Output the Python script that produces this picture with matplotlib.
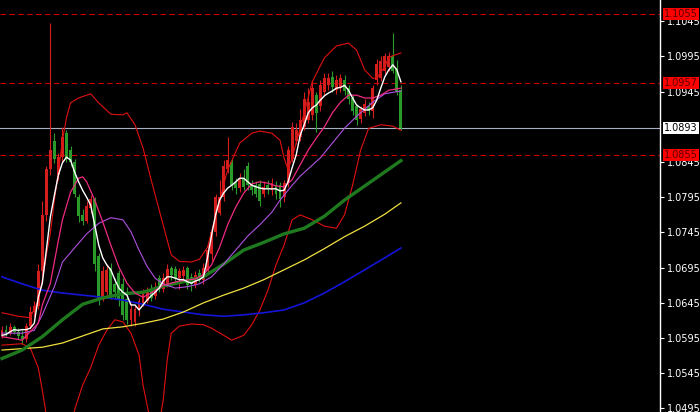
import matplotlib
matplotlib.use("Agg")
import matplotlib.pyplot as plt
import matplotlib.transforms as mtransforms

# OHLC bars, oldest first
opens = [1.0600, 1.0606, 1.0602, 1.0611, 1.0604, 1.0598, 1.0594, 1.0612, 1.0632, 1.0640,
         1.0690, 1.0770, 1.0835, 1.0875, 1.0826, 1.0852, 1.0886, 1.0862, 1.0845, 1.0796,
         1.0770, 1.0762, 1.0780, 1.0792, 1.0712, 1.0652, 1.0660, 1.0695, 1.0672, 1.0688,
         1.0672, 1.0650, 1.0620, 1.0618, 1.0636, 1.0645, 1.0648, 1.0662, 1.0655, 1.0680,
         1.0665, 1.0672, 1.0694, 1.0693, 1.0680, 1.0683, 1.0694, 1.0682, 1.0670, 1.0688,
         1.0677, 1.0690, 1.0715, 1.0745, 1.0773, 1.0795, 1.0835, 1.0845, 1.0815, 1.0808,
         1.0822, 1.0840, 1.0814, 1.0812, 1.0814, 1.0800, 1.0812, 1.0805, 1.0812, 1.0812,
         1.0795, 1.0815, 1.0850, 1.0875, 1.0880, 1.0895, 1.0905, 1.0912, 1.0940, 1.0925,
         1.0945, 1.0955, 1.0966, 1.0948, 1.0952, 1.0962, 1.0950, 1.0936, 1.0925, 1.0906,
         1.0915, 1.0925, 1.0918, 1.0962, 1.0965, 1.0975, 1.0980, 1.0995, 1.0978, 1.0948]
highs = [1.0612, 1.0614, 1.0616, 1.0614, 1.0610, 1.0606, 1.0616, 1.0640, 1.0648, 1.0700,
         1.0790, 1.0840, 1.1043, 1.0886, 1.0858, 1.0895, 1.0890, 1.0868, 1.0850, 1.0800,
         1.0778, 1.0790, 1.0798, 1.0796, 1.0716, 1.0698, 1.0700, 1.0702, 1.0680, 1.0692,
         1.0680, 1.0668, 1.0645, 1.0642, 1.0652, 1.0665, 1.0668, 1.0672, 1.0675, 1.0685,
         1.0688, 1.0700, 1.0698, 1.0698, 1.0695, 1.0697, 1.0698, 1.0688, 1.0690, 1.0693,
         1.0702, 1.0728, 1.0752, 1.0800, 1.0820, 1.0848, 1.0880, 1.0850, 1.0822, 1.0830,
         1.0835, 1.0845, 1.0820, 1.0818, 1.0820, 1.0818, 1.0820, 1.0822, 1.0818, 1.0816,
         1.0820, 1.0868, 1.0902, 1.0900, 1.0920, 1.0945, 1.0950, 1.0962, 1.0945, 1.0962,
         1.0972, 1.0972, 1.0975, 1.0968, 1.0970, 1.0968, 1.0955, 1.0940, 1.0928, 1.0925,
         1.0935, 1.0930, 1.0955, 1.0992, 1.0995, 1.1000, 1.1002, 1.1029, 1.0990, 1.0955]
lows = [1.0595, 1.0598, 1.0600, 1.0601, 1.0594, 1.0586, 1.0590, 1.0608, 1.0625, 1.0636,
        1.0685, 1.0762, 1.0826, 1.0843, 1.0820, 1.0845, 1.0845, 1.0840, 1.0795, 1.0760,
        1.0755, 1.0758, 1.0772, 1.0690, 1.0642, 1.0648, 1.0655, 1.0650, 1.0650, 1.0640,
        1.0620, 1.0615, 1.0612, 1.0612, 1.0627, 1.0640, 1.0645, 1.0648, 1.0650, 1.0660,
        1.0660, 1.0668, 1.0678, 1.0672, 1.0665, 1.0676, 1.0665, 1.0662, 1.0666, 1.0674,
        1.0672, 1.0688, 1.0705, 1.0740, 1.0770, 1.0790, 1.0830, 1.0805, 1.0800, 1.0802,
        1.0805, 1.0806, 1.0798, 1.0795, 1.0783, 1.0795, 1.0800, 1.0798, 1.0792, 1.0781,
        1.0788, 1.0810, 1.0845, 1.0870, 1.0875, 1.0890, 1.0900, 1.0905, 1.0888, 1.0918,
        1.0940, 1.0948, 1.0945, 1.0942, 1.0945, 1.0940, 1.0928, 1.0912, 1.0898, 1.0900,
        1.0910, 1.0912, 1.0908, 1.0955, 1.0960, 1.0970, 1.0975, 1.0972, 1.0940, 1.0890]
closes = [1.0606, 1.0602, 1.0611, 1.0604, 1.0598, 1.0594, 1.0612, 1.0632, 1.0640, 1.0690,
          1.0770, 1.0835, 1.0862, 1.0850, 1.0852, 1.0880, 1.0850, 1.0845, 1.0800, 1.0768,
          1.0762, 1.0782, 1.0792, 1.0700, 1.0650, 1.0690, 1.0692, 1.0655, 1.0660, 1.0650,
          1.0628, 1.0620, 1.0637, 1.0636, 1.0648, 1.0660, 1.0662, 1.0652, 1.0668, 1.0664,
          1.0680, 1.0693, 1.0684, 1.0680, 1.0690, 1.0692, 1.0670, 1.0672, 1.0685, 1.0680,
          1.0695, 1.0720, 1.0745, 1.0795, 1.0795, 1.0840, 1.0848, 1.0812, 1.0808, 1.0822,
          1.0810, 1.0812, 1.0805, 1.0800, 1.0790, 1.0810, 1.0808, 1.0815, 1.0800, 1.0792,
          1.0815, 1.0862, 1.0895, 1.0890, 1.0905, 1.0935, 1.0930, 1.0950, 1.0915, 1.0955,
          1.0965, 1.0965, 1.0951, 1.0962, 1.0965, 1.0946, 1.0934, 1.0918, 1.0905, 1.0920,
          1.0928, 1.0918, 1.0950, 1.0985, 1.0988, 1.0995, 1.0996, 1.0975, 1.0945, 1.0893]

# moving averages (bar index, price)
ma_white = [1.0599, 1.0600, 1.0604, 1.0607, 1.0606, 1.0607, 1.0607, 1.0609, 1.0616, 1.0653,
            1.0673, 1.0720, 1.0767, 1.0798, 1.0827, 1.0844, 1.0852, 1.0848, 1.0831, 1.0817,
            1.0805, 1.0795, 1.0784, 1.0756, 1.0727, 1.0709, 1.0699, 1.0692, 1.0678, 1.0666,
            1.0660, 1.0656, 1.0642, 1.0642, 1.0635, 1.0642, 1.0649, 1.0655, 1.0660, 1.0666,
            1.0676, 1.0682, 1.0682, 1.0680, 1.0678, 1.0678, 1.0675, 1.0673, 1.0676, 1.0678,
            1.0682, 1.0709, 1.0741, 1.0770, 1.0791, 1.0801, 1.0808, 1.0812, 1.0817, 1.0822,
            1.0822, 1.0817, 1.0812, 1.0810, 1.0808, 1.0807, 1.0807, 1.0807, 1.0807, 1.0804,
            1.0805, 1.0817, 1.0837, 1.0855, 1.0883, 1.0898, 1.0915, 1.0922, 1.0926, 1.0933,
            1.0939, 1.0943, 1.0946, 1.0950, 1.0951, 1.0954, 1.0947, 1.0936, 1.0926, 1.0922,
            1.0919, 1.0919, 1.0922, 1.0933, 1.0950, 1.0966, 1.0976, 1.0983, 1.0976, 1.0959]
ma_pink_x = [0, 5, 9, 10, 12, 14, 15, 17, 18, 19, 20, 21, 23, 25, 27, 29, 31, 33, 35, 37,
             40, 44, 48, 50, 52, 54, 56, 58, 60, 62, 64, 66, 68, 70, 72, 74, 76, 78, 80, 82,
             84, 86, 88, 90, 92, 94, 96, 99]
ma_pink = [1.0597, 1.0592, 1.0616, 1.0642, 1.0673, 1.0734, 1.0763, 1.0802, 1.0812, 1.0822,
           1.0824, 1.0817, 1.0791, 1.0760, 1.0727, 1.0696, 1.0673, 1.0659, 1.0653, 1.0659,
           1.0670, 1.0676, 1.0679, 1.0685, 1.0699, 1.0724, 1.0756, 1.0781, 1.0801, 1.0814,
           1.0817, 1.0815, 1.0811, 1.0810, 1.0820, 1.0841, 1.0862, 1.0879, 1.0895, 1.0915,
           1.0930, 1.0940, 1.0940, 1.0936, 1.0936, 1.0940, 1.0947, 1.0950]
ma_purple_x = [0, 5, 8, 10, 13, 15, 18, 21, 24, 27, 30, 32, 34, 36, 38, 40, 43, 46, 49, 52,
               55, 58, 61, 64, 67, 69, 72, 74, 79, 85, 88, 92, 95, 99]
ma_purple = [1.0602, 1.0602, 1.0606, 1.0628, 1.0668, 1.0703, 1.0723, 1.0743, 1.0758, 1.0766,
             1.0763, 1.0746, 1.0720, 1.0697, 1.0680, 1.0672, 1.0666, 1.0668, 1.0672, 1.0682,
             1.0700, 1.0720, 1.0740, 1.0756, 1.0774, 1.0791, 1.0812, 1.0825, 1.0851, 1.0893,
             1.0910, 1.0930, 1.0942, 1.0946]
slow_x = [0, 5, 10, 15, 20, 25, 30, 35, 40, 45, 50, 55, 60, 65, 70, 75, 80, 85, 90, 95, 99]
ma_green = [1.0566, 1.0578, 1.0597, 1.0621, 1.0643, 1.0652, 1.0658, 1.0660, 1.0669, 1.0675,
            1.0682, 1.0700, 1.0720, 1.0731, 1.0743, 1.0751, 1.0768, 1.0791, 1.0811, 1.0831,
            1.0847]
ma_yellow = [1.0578, 1.0580, 1.0582, 1.0588, 1.0598, 1.0608, 1.0611, 1.0616, 1.0622, 1.0632,
             1.0645, 1.0656, 1.0666, 1.0678, 1.0692, 1.0706, 1.0722, 1.0739, 1.0754, 1.0771,
             1.0787]
ma_blue = [1.0682, 1.0672, 1.0663, 1.0659, 1.0656, 1.0653, 1.0649, 1.0643, 1.0636, 1.0632,
           1.0628, 1.0626, 1.0628, 1.0631, 1.0635, 1.0645, 1.0659, 1.0675, 1.0692, 1.0709,
           1.0723]

# Bollinger bands
bb_up_x = [0, 4, 7, 9, 10, 11, 12, 13, 14, 15, 16, 17, 19, 22, 24, 27, 30, 31, 33, 35,
           37, 39, 41, 42, 44, 47, 49, 51, 52, 54, 56, 59, 62, 64, 67, 69, 70, 71, 72, 74,
           77, 80, 83, 86, 88, 90, 92, 93, 95, 96, 99]
bb_up = [1.0631, 1.0626, 1.0624, 1.0649, 1.0677, 1.0713, 1.0744, 1.0791, 1.0831, 1.0876,
         1.0908, 1.0929, 1.0936, 1.0942, 1.0929, 1.0913, 1.0912, 1.0915, 1.0898, 1.0865,
         1.0820, 1.0777, 1.0734, 1.0713, 1.0704, 1.0703, 1.0707, 1.0724, 1.0746, 1.0791,
         1.0834, 1.0872, 1.0886, 1.0889, 1.0886, 1.0876, 1.0851, 1.0834, 1.0851, 1.0893,
         1.0959, 1.0993, 1.1010, 1.1014, 1.1004, 1.0976, 1.0964, 1.0964, 1.0981, 1.0994,
         1.1000]
bb_lo_x = [0, 5, 7, 9, 10, 11, 12, 15, 17, 18, 20, 22, 24, 26, 28, 30, 32, 34, 35, 36,
           37, 39, 40, 41, 42, 44, 47, 50, 52, 55, 57, 60, 62, 64, 66, 68, 70, 72, 74, 77,
           80, 83, 85, 87, 89, 91, 94, 97, 99]
bb_lo = [1.0585, 1.0587, 1.0581, 1.0553, 1.0521, 1.0486, 1.0470, 1.0440, 1.0450, 1.0493,
         1.0528, 1.0553, 1.0585, 1.0606, 1.0621, 1.0618, 1.0602, 1.0571, 1.0528, 1.0500,
         1.0472, 1.0472, 1.0507, 1.0564, 1.0602, 1.0612, 1.0615, 1.0614, 1.0609, 1.0599,
         1.0592, 1.0599, 1.0614, 1.0635, 1.0663, 1.0699, 1.0727, 1.0763, 1.0770, 1.0763,
         1.0754, 1.0751, 1.0770, 1.0812, 1.0862, 1.0893, 1.0898, 1.0896, 1.0890]

levels = [1.1055, 1.0957, 1.0855]
last_price = 1.0893
yticks = [1.0495, 1.0545, 1.0595, 1.0645, 1.0695, 1.0745, 1.0795, 1.0845, 1.0945, 1.0995, 1.1045]

RED = '#d41e1e'
GREEN = '#2a9a2a'

fig = plt.figure(figsize=(7, 4.12), dpi=100, facecolor='black')
ax = fig.add_axes([0, 0, 660 / 700, 1])
ax.set_facecolor('black')

n = len(closes)
idx = list(range(n))

# horizontal levels
for lv in levels:
    ax.axhline(lv, color='#c80000', lw=0.8, ls=(0, (5, 3)), zorder=1)
ax.axhline(last_price, color='#a8b0c4', lw=0.8, zorder=1)

# candles
for i in idx:
    o, h, l, c = opens[i], highs[i], lows[i], closes[i]
    col = RED if c >= o else GREEN
    ax.vlines(i, l, h, color=col, lw=0.8, zorder=2)
    ax.bar(i, abs(c - o), bottom=min(o, c), width=0.72, color=col, lw=0, zorder=3)

# indicators
ax.plot(bb_up_x, bb_up, color='#e01010', lw=0.8, zorder=4)
ax.plot(bb_lo_x, bb_lo, color='#e01010', lw=0.8, zorder=4)
ax.plot(slow_x, ma_blue, color='#1414d8', lw=1.2, zorder=4)
ax.plot(slow_x, ma_yellow, color='#f0e040', lw=0.9, zorder=4)
ax.plot(slow_x, ma_green, color='#1f7a1f', lw=2.4, zorder=4)
ax.plot(ma_purple_x, ma_purple, color='#b050e0', lw=0.8, zorder=5)
ax.plot(ma_pink_x, ma_pink, color='#f02a80', lw=0.9, zorder=5)
ax.plot(idx, ma_white, color='white', lw=1.0, zorder=6)

ax.set_xlim(-0.5, 163.3)
ax.set_ylim(1.0490, 1.10752)

for s in ['top', 'left', 'bottom']:
    ax.spines[s].set_visible(False)
ax.spines['right'].set_color('white')
ax.spines['right'].set_linewidth(1)
ax.set_xticks([])
ax.yaxis.tick_right()
ax.set_yticks(yticks)
ax.set_yticklabels(['%.4f' % v for v in yticks])
ax.tick_params(axis='y', colors='white', labelcolor='white', labelsize=7,
               length=3, width=0.8, pad=2)

# price labels on the axis
trans = mtransforms.blended_transform_factory(ax.transAxes, ax.transData)
for lv in levels:
    ax.text(1.006, lv, '%.4f' % lv, transform=trans, fontsize=7, color='#5a0000',
            va='center', ha='left', zorder=10, clip_on=False,
            bbox=dict(boxstyle='square,pad=0.12', fc='#ff0000', ec='none'))
ax.text(1.006, last_price, '%.4f' % last_price, transform=trans, fontsize=7, color='black',
        va='center', ha='left', zorder=10, clip_on=False,
        bbox=dict(boxstyle='square,pad=0.12', fc='white', ec='none'))

fig.savefig('out.png', dpi=100, facecolor='black')
